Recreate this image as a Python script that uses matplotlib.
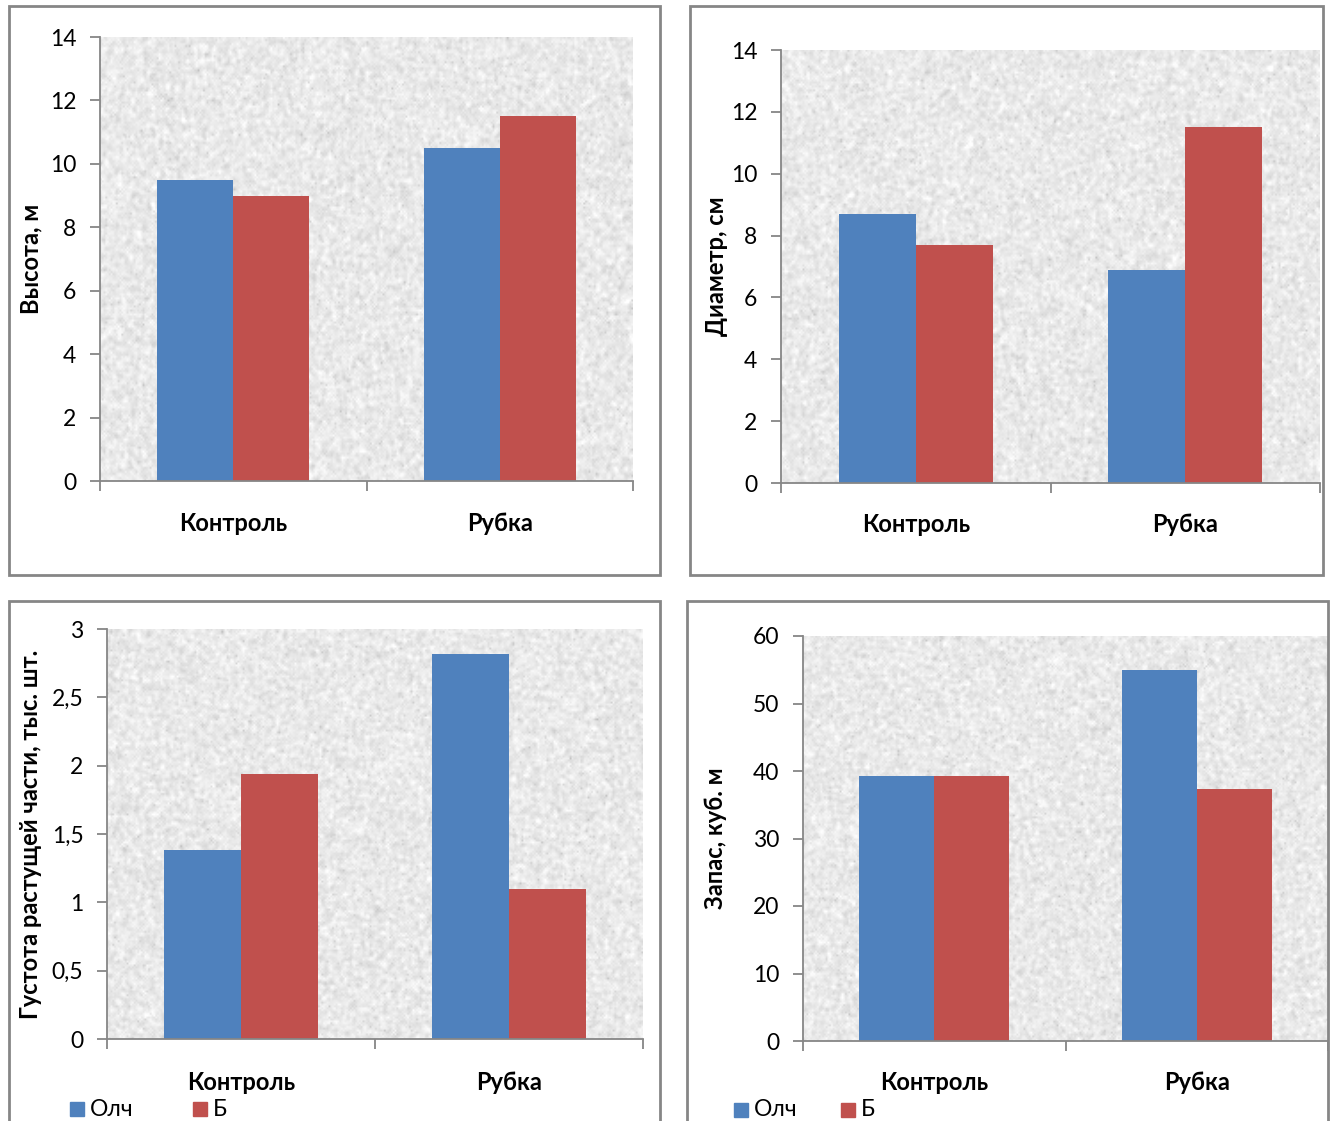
import numpy as np
import matplotlib
matplotlib.use("Agg")
import matplotlib.pyplot as plt
from matplotlib.patches import Rectangle

plt.rcParams['font.family'] = ['Lato', 'DejaVu Sans']

categories = ["Контроль", "Рубка"]
series_names = ["Олч", "Б"]
colors = ["#4f81bd", "#c0504d"]

height_olch = [9.5, 10.5]
height_b = [9.0, 11.5]

diam_olch = [8.7, 6.9]
diam_b = [7.7, 11.5]

density_olch = [1.38, 2.82]
density_b = [1.94, 1.10]

stock_olch = [39.2, 55.0]
stock_b = [39.2, 37.4]

W, H = 1333, 1121
fig = plt.figure(figsize=(W / 100, H / 100), dpi=100)
fig.patch.set_facecolor("white")

GREY = "#868686"


def px_rect(x0, y0, x1, y1):
    return [x0 / W, 1 - y1 / H, (x1 - x0) / W, (y1 - y0) / H]


def granite(seed, h=220, w=300):
    rng = np.random.default_rng(seed)
    n = rng.normal(size=(h, w))
    n = (n + np.roll(n, 1, 0) + np.roll(n, -1, 0) + np.roll(n, 1, 1) + np.roll(n, -1, 1)) / 5
    n = n / n.std()
    img = 0.915 + 0.03 * n
    flecks = rng.random((h, w)) < 0.015
    img[flecks] -= 0.08
    return np.clip(img, 0, 1)


def frame(x0, y0, x1, y1):
    fig.patches.append(Rectangle((x0 / W, 1 - y1 / H), (x1 - x0) / W, (y1 - y0) / H,
                                 transform=fig.transFigure, fill=False,
                                 edgecolor=GREY, linewidth=2, zorder=0))


def panel(rect_px, olch, b, ymax, ystep, ylabel, ylab_x, cat_y, seed,
          comma=False, legend=None):
    ax = fig.add_axes(px_rect(*rect_px))
    x = np.arange(len(categories)) + 0.5
    w = 1 / 3.5
    ax.imshow(granite(seed), cmap="gray", vmin=0, vmax=1, extent=(0, 2, 0, ymax),
              aspect="auto", interpolation="bilinear", zorder=0)
    ax.bar(x - w / 2, olch, width=w, color=colors[0], zorder=2)
    ax.bar(x + w / 2, b, width=w, color=colors[1], zorder=2)
    ax.set_xlim(0, 2)
    ax.set_ylim(0, ymax)
    ticks = np.arange(0, ymax + ystep / 2, ystep)
    ax.set_yticks(ticks)
    if comma:
        labels = [("%g" % t).replace(".", ",") for t in ticks]
    else:
        labels = ["%g" % t for t in ticks]
    ax.set_yticklabels(labels, fontsize=16.5)
    ax.set_xticks([0, 1, 2])
    ax.set_xticklabels([])
    ax.tick_params(axis="both", direction="out", length=7, width=1.3, color=GREY, pad=10)
    for s in ("top", "right"):
        ax.spines[s].set_visible(False)
    for s in ("left", "bottom"):
        ax.spines[s].set_color(GREY)
        ax.spines[s].set_linewidth(1.3)
    x0, y0, x1, y1 = rect_px
    for xi, cat in zip(x, categories):
        xp = x0 + (x1 - x0) * xi / 2
        fig.text(xp / W, 1 - cat_y / H, cat, ha="center", va="center",
                 fontsize=17, fontweight="bold")
    fig.text(ylab_x / W, 1 - (y0 + y1) / 2 / H, ylabel, rotation=90,
             ha="center", va="center", fontsize=17, fontweight="bold")
    if legend is not None:
        lx0, lx1, ly = legend
        for lx, c, name in zip((lx0, lx1), colors, series_names):
            fig.patches.append(Rectangle((lx / W, 1 - (ly + 7) / H), 14 / W, 14 / H,
                                         transform=fig.transFigure, color=c))
            fig.text((lx + 20) / W, 1 - ly / H, name, ha="left", va="center", fontsize=16.5)
    return ax


frame(9, 6, 660, 575)
frame(690, 6, 1323, 575)
frame(9, 601, 660, 1135)
frame(687, 601, 1328, 1135)

panel((100, 37, 633, 481), height_olch, height_b, 14, 2, "Высота, м", 31, 523, 1)
panel((781, 50, 1320, 483), diam_olch, diam_b, 14, 2, "Диаметр, см", 717, 525, 2)
panel((107, 629, 643, 1039), density_olch, density_b, 3, 0.5,
      "Густота растущей части, тыс. шт.", 31, 1082, 3, comma=True,
      legend=(70, 193, 1109))
panel((803, 636, 1328, 1041), stock_olch, stock_b, 60, 10, "Запас, куб. м", 715, 1083, 4,
      legend=(734, 841, 1110))

fig.savefig("out.png", dpi=100)
